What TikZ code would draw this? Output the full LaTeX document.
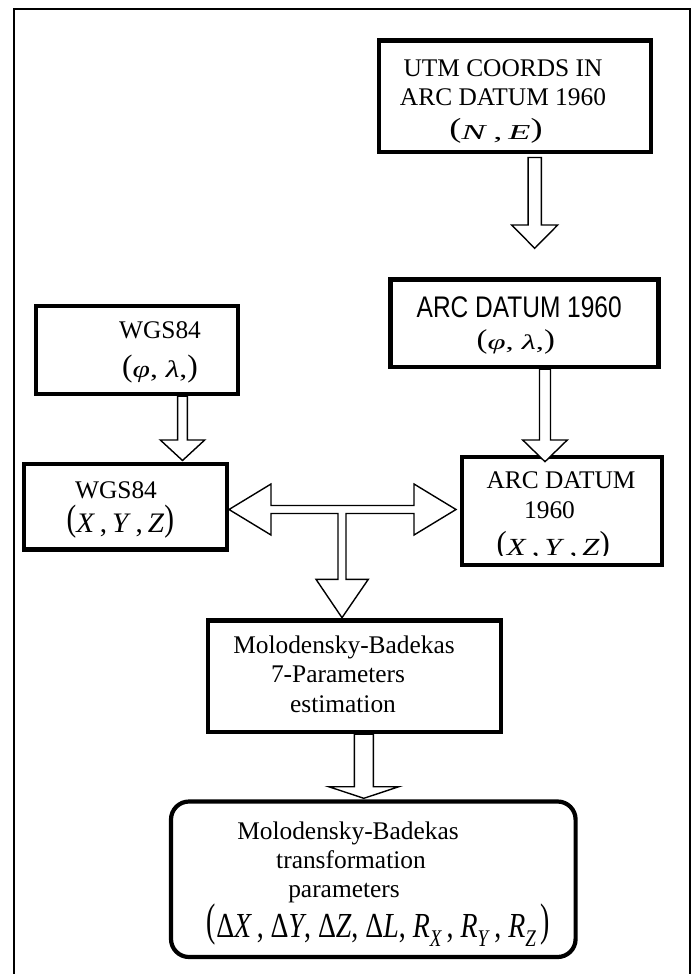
\documentclass[tikz,border=0pt]{standalone}
\usepackage{fontspec}
\setmainfont{Liberation Serif}
\newfontfamily\arialf{Liberation Sans}
\usepackage{graphicx}
\usetikzlibrary{calc}

\newcommand{\lp}{\raisebox{0.08em}{\scalebox{1}[1.3]{(}}}
\newcommand{\rp}{\raisebox{0.08em}{\scalebox{1}[1.3]{)}}}
\newcommand{\subx}[1]{\raisebox{-0.25em}{\scalebox{0.68}{\textit{#1}}}}
\newcommand{\blockdown}[5]{%
  \draw[blockarrow] let \p1=(#1), \p2=(#2) in
   (\x1-#3pt,\y1) -- (\x1-#3pt,\y2+#5pt) -- (\x1-#4pt,\y2+#5pt) -- (\x1,\y2)
   -- (\x1+#4pt,\y2+#5pt) -- (\x1+#3pt,\y2+#5pt) -- (\x1+#3pt,\y1) -- cycle;}

\begin{document}
\begin{tikzpicture}[x=1pt,y=-1pt,
  box/.style={draw, line width=4.2pt, inner sep=0pt, fill=white},
  txt/.style={anchor=base, inner sep=0pt, font=\fontsize{25.4}{25.4}\selectfont},
  mtxt/.style={anchor=center, inner sep=0pt, font=\fontsize{25}{25}\selectfont},
  blockarrow/.style={draw, line width=1.4pt, fill=white, line join=miter}]
\useasboundingbox (0,0) rectangle (695,974);
% outer frame (open at the bottom)
\draw[line width=2pt] (13.7,980) -- (13.7,9.2) -- (690.3,9.2) -- (690.3,980);

% boxes
\node[box, minimum width=272pt, minimum height=111.5pt] (utm) at (515,96.25) {};
\node[box, minimum width=268pt, minimum height=87.5pt] (arcgeo) at (524.5,323.25) {};
\node[box, minimum width=202pt, minimum height=88pt] (wgsgeo) at (137,350) {};
\node[box, minimum width=203pt, minimum height=85.5pt] (wgsxyz) at (125.5,506.75) {};
\node[box, minimum width=200pt, minimum height=108pt] (arcxyz) at (562,511) {};
\node[box, minimum width=293pt, minimum height=111.5pt] (mb) at (354.5,676.25) {};
\node[box, rounded corners=18pt, minimum width=404.6pt, minimum height=155.5pt] (res) at (373.3,879.25) {};

% block arrows
\coordinate (a1s) at (534.7,157.5);
\coordinate (a1t) at (534.7,248.3);
\blockdown{a1s}{a1t}{6.6}{23}{23.3}
\coordinate (a2s) at (wgsgeo.south -| 182.5,0);
\coordinate (a2t) at (182.5,460.5);
\blockdown{a2s}{a2t}{4.9}{22.2}{20.5}
\coordinate (a3s) at (arcgeo.south -| 545,0);
\coordinate (a3t) at (545,461.7);
\blockdown{a3s}{a3t}{5.5}{22.3}{21.7}
\coordinate (a4s) at (mb.south -| 363.8,0);
\coordinate (a4t) at (363.8,798.3);
\blockdown{a4s}{a4t}{9.5}{35}{11.6}

% T-shaped double arrow
\coordinate (tl) at (229,509.5);
\coordinate (tr) at (456,509.5);
\coordinate (tb) at (342,617.7);
\draw[blockarrow] (tl) -- (271,484) -- (271,505.5) -- (414,505.5) -- (414,484) -- (tr)
  -- (414,535) -- (414,513.5) -- (346,513.5) -- (346,579.3) -- (368.3,579.3) -- (tb)
  -- (316,579.3) -- (338,579.3) -- (338,513.5) -- (271,513.5) -- (271,535) -- cycle;

% texts
\node[txt] (t1a) at (503,77) {UTM COORDS IN};
\node[txt] (t1b) at (503,105) {ARC DATUM 1960};
\node[mtxt] (t1c) at (496,130.8) {\resizebox*{93.4pt}{25pt}{\lp\textit{N}\,,\,\textit{E}\rp}};

\node[anchor=base, inner sep=0pt] (t2a) at (519.2,317) {\resizebox{205pt}{20.8pt}{\arialf ARC DATUM 1960}};
\node[mtxt] (t2b) at (515.8,341.8) {\resizebox*{78.3pt}{25pt}{\lp\textit{φ}, \textit{λ},\rp}};

\node[txt] (t3a) at (160,338) {WGS84};
\node[mtxt] (t3b) at (160,368.8) {\resizebox*{75.6pt}{28.5pt}{\lp\textit{φ}, \textit{λ},\rp}};

\node[txt] (t4a) at (116,498) {WGS84};
\node[mtxt] (t4b) at (120.3,521.7) {\resizebox*{107.3pt}{33.3pt}{\lp\textit{X}\,,\,\textit{Y}\,,\,\textit{Z}\rp}};

\node[txt] (t5a) at (561,488) {ARC DATUM};
\node[txt] (t5b) at (549.5,518) {1960};
\begin{scope}
\clip (470,520) rectangle (650,555);
\node[mtxt] (t5c) at (553.3,546.2) {\resizebox*{113.3pt}{29pt}{\lp\textit{X}\,,\,\textit{Y}\,,\,\textit{Z}\rp}};
\end{scope}

\node[txt] (t6a) at (344,653) {Molodensky-Badekas};
\node[txt] (t6b) at (338,682) {7-Parameters};
\node[txt] (t6c) at (343,712) {estimation};

\node[txt] (t7a) at (348,839) {Molodensky-Badekas};
\node[txt] (t7b) at (351,868) {transformation};
\node[txt] (t7c) at (344,897) {parameters};
\node[mtxt] (t7d) at (378.5,925) {\resizebox*{343pt}{43.3pt}{\lp Δ\textit{X}\,, Δ\textit{Y}, Δ\textit{Z}, Δ\textit{L}, \textit{R}\subx{X}\,, \textit{R}\subx{Y}\,, \textit{R}\subx{Z}\,\rp}};
\end{tikzpicture}
\end{document}
